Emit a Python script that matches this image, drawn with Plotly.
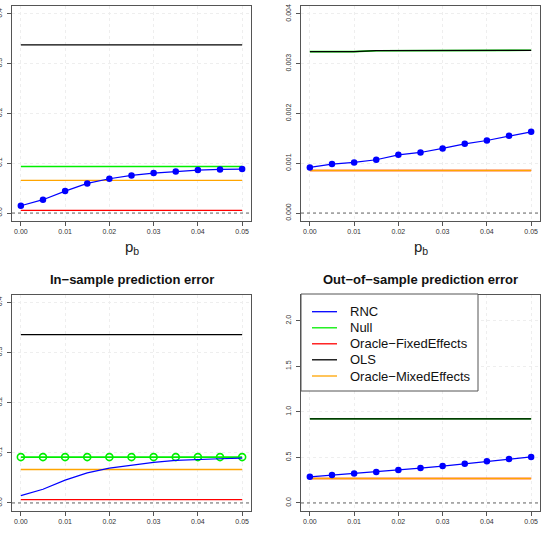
import plotly.graph_objects as go

W, H = 553, 534

# ---------------- data ----------------
p_b = [0.0, 0.005, 0.01, 0.015, 0.02, 0.025, 0.03, 0.035, 0.04, 0.045, 0.05]

# top-left panel
tl_rnc = [0.0147, 0.0268, 0.0441, 0.0595, 0.0689, 0.0756, 0.0803, 0.0836, 0.0863, 0.0876, 0.0883]
tl_null = [0.0936] * 11
tl_fixed = [0.0054] * 11
tl_ols = [0.3378] * 11
tl_mixed = [0.0656] * 11

# top-right panel
tr_rnc = [0.000916, 0.000983, 0.001017, 0.00107, 0.00117, 0.001217, 0.001298, 0.001391, 0.001458, 0.001552, 0.001632]
tr_null = [0.003244, 0.003240, 0.003244, 0.003262, 0.003264, 0.003264, 0.003264, 0.003266, 0.003270, 0.003270, 0.003270]
tr_fixed = [0.000856] * 11
tr_ols = [0.003244, 0.003240, 0.003244, 0.003262, 0.003264, 0.003264, 0.003264, 0.003266, 0.003270, 0.003270, 0.003270]
tr_mixed = [0.000856] * 11

# bottom-left: in-sample prediction error
bl_rnc = [0.0147, 0.0274, 0.0455, 0.0602, 0.0696, 0.0756, 0.0809, 0.0849, 0.0870, 0.0883, 0.0896]
bl_null = [0.0916] * 11
bl_fixed = [0.0067] * 11
bl_ols = [0.3358] * 11
bl_mixed = [0.0669] * 11

# bottom-right: out-of-sample prediction error
br_rnc = [0.287, 0.306, 0.324, 0.339, 0.361, 0.383, 0.405, 0.431, 0.457, 0.4825, 0.505]
br_null = [0.924] * 11
br_fixed = [0.269] * 11
br_ols = [0.924] * 11
br_mixed = [0.269] * 11

x_ticks = [0.0, 0.01, 0.02, 0.03, 0.04, 0.05]
x_ticklabels = ["0.00", "0.01", "0.02", "0.03", "0.04", "0.05"]
yl_ticks = [0.0, 0.1, 0.2, 0.3, 0.4]
yl_ticklabels = ["0.0", "0.1", "0.2", "0.3", "0.4"]
ytr_ticks = [0.0, 0.001, 0.002, 0.003, 0.004]
ytr_ticklabels = ["0.000", "0.001", "0.002", "0.003", "0.004"]
ybr_ticks = [0.0, 0.5, 1.0, 1.5, 2.0]
ybr_ticklabels = ["0.0", "0.5", "1.0", "1.5", "2.0"]

titles = ["", "", "In\u2212sample prediction error", "Out\u2212of\u2212sample prediction error"]
legend_names = ["RNC", "Null", "Oracle\u2212FixedEffects", "OLS", "Oracle\u2212MixedEffects"]

# ---------------- styling ----------------
C_RNC, C_NULL, C_FIX, C_OLS, C_MIX = "#0000FF", "#00EE00", "#FF0000", "#000000", "#FFA500"
FONT = "Liberation Sans, Arial, sans-serif"
BOX = "#555555"
GRID = "#eeeeee"

def px_x(v):
    return v / W

def px_y(v):
    return 1 - v / H

# panel boxes in pixels: (left, right, top, bottom)
boxes = [
    (12, 251, 6, 221),
    (301, 540, 6, 221),
    (12, 251, 294.5, 511),
    (301, 540, 294.5, 511),
]
yranges = [
    [-0.016, 0.416],
    [-0.00016, 0.00416],
    [-0.016, 0.416],
    [-0.088, 2.288],
]
yticks = [
    (yl_ticks, yl_ticklabels),
    (ytr_ticks, ytr_ticklabels),
    (yl_ticks, yl_ticklabels),
    (ybr_ticks, ybr_ticklabels),
]

panels = [
    (tl_rnc, tl_null, tl_fixed, tl_ols, tl_mixed, True, False),
    (tr_rnc, tr_null, tr_fixed, tr_ols, tr_mixed, True, False),
    (bl_rnc, bl_null, bl_fixed, bl_ols, bl_mixed, False, True),
    (br_rnc, br_null, br_fixed, br_ols, br_mixed, True, False),
]

fig = go.Figure()
layout = dict(
    width=W, height=H,
    margin=dict(l=0, r=0, t=0, b=0, autoexpand=False),
    paper_bgcolor="white", plot_bgcolor="white",
    showlegend=False,
    font=dict(family=FONT, color="#333333"),
)
shapes = []
annotations = []

for i, (box, yr, (tv, tt), pan) in enumerate(zip(boxes, yranges, yticks, panels)):
    n = "" if i == 0 else str(i + 1)
    xa, ya = "x" + n, "y" + n
    rnc, null, fixed, ols, mixed, rnc_markers, null_markers = pan
    l, r, t, b = box
    layout["xaxis" + n] = dict(
        domain=[px_x(l), px_x(r)], anchor=ya, range=[-0.002, 0.052],
        tickvals=x_ticks, ticktext=x_ticklabels, ticks="outside", ticklen=4,
        tickcolor=BOX, tickfont=dict(size=7, color="#333333"),
        showline=True, mirror=True, linecolor=BOX, linewidth=1,
        showgrid=True, gridcolor=GRID, griddash="dot", gridwidth=1,
        zeroline=False, automargin=False,
    )
    layout["yaxis" + n] = dict(
        domain=[px_y(b), px_y(t)], anchor=xa, range=yr,
        tickvals=tv, ticktext=tt, ticks="outside", ticklen=4,
        tickcolor=BOX, tickfont=dict(size=7, color="#333333"), tickangle=-90,
        ticklabelstandoff=2,
        showline=True, mirror=True, linecolor=BOX, linewidth=1,
        showgrid=True, gridcolor=GRID, griddash="dot", gridwidth=1,
        zeroline=False, automargin=False,
    )
    # reference line at 0
    shapes.append(dict(type="line", xref=xa + " domain", yref=ya, x0=0, x1=1, y0=0, y1=0,
                       line=dict(color="#666666", width=1, dash="dot")))

    fig.add_trace(go.Scatter(x=p_b, y=null, xaxis=xa, yaxis=ya,
                             mode="lines+markers" if null_markers else "lines",
                             line=dict(color=C_NULL, width=1.6),
                             marker=dict(symbol="circle-open", size=7, color=C_NULL, line=dict(width=1.6))))
    fig.add_trace(go.Scatter(x=p_b, y=fixed, xaxis=xa, yaxis=ya, mode="lines",
                             line=dict(color=C_FIX, width=1.4)))
    fig.add_trace(go.Scatter(x=p_b, y=ols, xaxis=xa, yaxis=ya, mode="lines",
                             line=dict(color=C_OLS, width=1.3)))
    fig.add_trace(go.Scatter(x=p_b, y=mixed, xaxis=xa, yaxis=ya, mode="lines",
                             line=dict(color=C_MIX, width=1.4)))
    fig.add_trace(go.Scatter(x=p_b, y=rnc, xaxis=xa, yaxis=ya,
                             mode="lines+markers" if rnc_markers else "lines",
                             line=dict(color=C_RNC, width=1.2),
                             marker=dict(symbol="circle", size=6.5, color=C_RNC)))

    cx = (l + r) / 2
    # x axis title p_b
    annotations.append(dict(text="p<sub>b</sub>", xref="paper", yref="paper",
                            x=px_x(cx), y=px_y(b + 26), xanchor="center", yanchor="middle",
                            showarrow=False, font=dict(size=15, color="#222222", family=FONT)))
    if titles[i]:
        annotations.append(dict(text="<b>" + titles[i] + "</b>", xref="paper", yref="paper",
                                x=px_x(cx), y=px_y(279), xanchor="center", yanchor="middle",
                                showarrow=False, font=dict(size=13, color="#111111", family=FONT)))

# manual legend in bottom-right panel
lg_l, lg_r, lg_t, lg_b = 301, 478, 294, 391
shapes.append(dict(type="rect", xref="paper", yref="paper",
                   x0=px_x(lg_l), x1=px_x(lg_r), y0=px_y(lg_b), y1=px_y(lg_t),
                   line=dict(color=BOX, width=1), fillcolor="white", layer="above"))
row_y = [311.7, 327.8, 343.8, 359.8, 376.0]
row_c = [C_RNC, C_NULL, C_FIX, C_OLS, C_MIX]
for name, yy, cc in zip(legend_names, row_y, row_c):
    shapes.append(dict(type="line", xref="paper", yref="paper",
                       x0=px_x(312), x1=px_x(337), y0=px_y(yy), y1=px_y(yy),
                       line=dict(color=cc, width=1.3), layer="above"))
    annotations.append(dict(text=name, xref="paper", yref="paper",
                            x=px_x(348), y=px_y(yy), xanchor="left", yanchor="middle",
                            showarrow=False, font=dict(size=13, color="#111111", family=FONT)))

layout["shapes"] = shapes
layout["annotations"] = annotations
fig.update_layout(**layout)
fig.write_html("out.html")
